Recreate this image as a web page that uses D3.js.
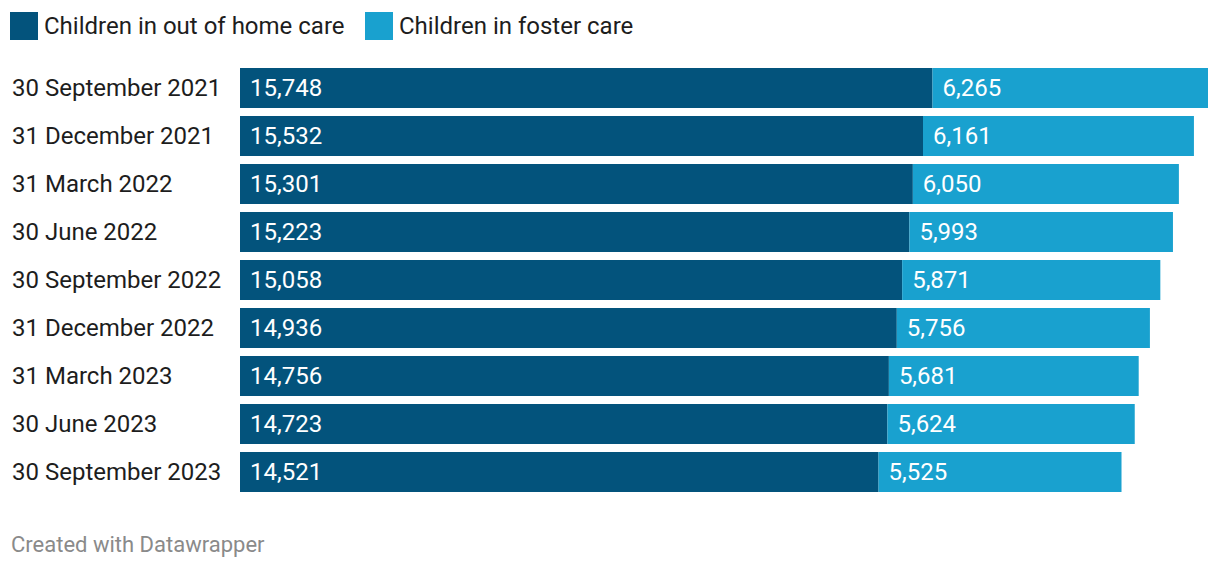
<!DOCTYPE html>
<html><head><meta charset="utf-8">
<script src="https://cdn.jsdelivr.net/npm/d3@7"></script>
<style>
html,body{margin:0;padding:0;background:#fff;}
svg{display:block;font-family:Roboto,sans-serif;}
</style></head>
<body>
<svg id="c" width="1220" height="570"></svg>
<script>
const categories = ["30 September 2021","31 December 2021","31 March 2022","30 June 2022","30 September 2022","31 December 2022","31 March 2023","30 June 2023","30 September 2023"];
const outOfHome = [15748,15532,15301,15223,15058,14936,14756,14723,14521];
const foster = [6265,6161,6050,5993,5871,5756,5681,5624,5525];
const seriesNames = ["Children in out of home care","Children in foster care"];
const colors = ["#03537c","#19a1cf"];

const svg = d3.select("#c");
const rows = categories.map((c,i)=>({cat:c, a:outOfHome[i], b:foster[i]}));
const maxTotal = d3.max(rows, d=>d.a+d.b);
const x = d3.scaleLinear().domain([0,maxTotal]).range([240,1208]);
const y = d3.scaleBand().domain(categories).range([64,496]).paddingInner(1/6).paddingOuter(1/12);
const fmt = d3.format(",");

// legend
const leg = svg.append("g");
const legX = [10, 365];
seriesNames.forEach((n,i)=>{
  leg.append("rect").attr("x",legX[i]).attr("y",12).attr("width",28).attr("height",28).attr("fill",colors[i]);
  leg.append("text").attr("x",legX[i]+34).attr("y",34).attr("font-size",24).attr("fill","#1d1d1d").text(n);
});

const g = svg.append("g");
const row = g.selectAll("g.row").data(rows).join("g").attr("class","row");
row.append("text").attr("x",12).attr("y",d=>y(d.cat)+y.bandwidth()/2+8)
  .attr("font-size",24).attr("fill","#1d1d1d").text(d=>d.cat);
row.append("rect").attr("x",x(0)).attr("y",d=>y(d.cat)).attr("height",y.bandwidth())
  .attr("width",d=>x(d.a)-x(0)).attr("fill",colors[0]);
row.append("rect").attr("x",d=>x(d.a)).attr("y",d=>y(d.cat)).attr("height",y.bandwidth())
  .attr("width",d=>x(d.a+d.b)-x(d.a)).attr("fill",colors[1]);
row.append("text").attr("x",x(0)+10).attr("y",d=>y(d.cat)+y.bandwidth()/2+8)
  .attr("font-size",24).attr("fill","#fff").text(d=>fmt(d.a));
row.append("text").attr("x",d=>x(d.a)+10).attr("y",d=>y(d.cat)+y.bandwidth()/2+8)
  .attr("font-size",24).attr("fill","#fff").text(d=>fmt(d.b));

svg.append("text").attr("x",11).attr("y",552).attr("font-size",22).attr("fill","#8a8a8a").text("Created with Datawrapper");
</script>
</body></html>
